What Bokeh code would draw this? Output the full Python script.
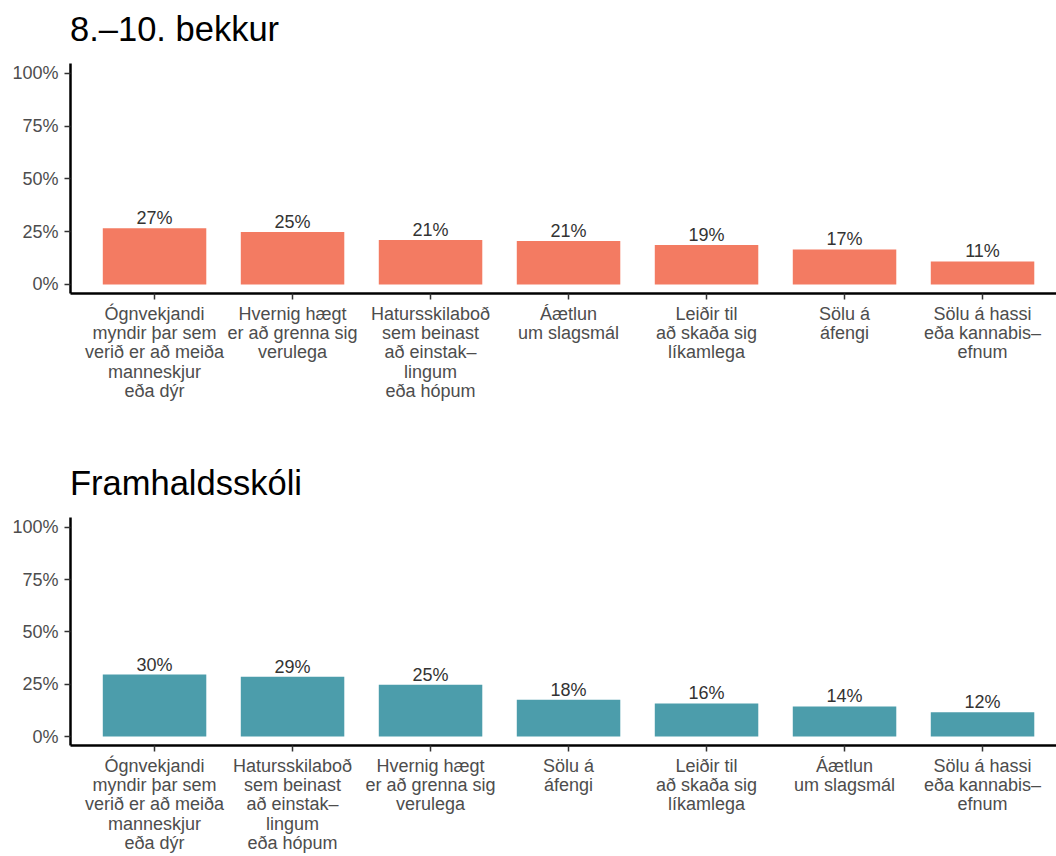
from bokeh.plotting import figure
from bokeh.models import FixedTicker, Range1d, Div
from bokeh.layouts import column
from bokeh.embed import file_html
from bokeh.resources import INLINE
from bokeh.core.properties import value

FONT = "Liberation Sans"

# ---- data ----
title_top = "8.–10. bekkur"
cats_top = [
    "Ógnvekjandi\nmyndir þar sem\nverið er að meiða\nmanneskjur\neða dýr",
    "Hvernig hægt\ner að grenna sig\nverulega",
    "Hatursskilaboð\nsem beinast\nað einstak–\nlingum\neða hópum",
    "Áætlun\num slagsmál",
    "Leiðir til\nað skaða sig\nlíkamlega",
    "Sölu á\náfengi",
    "Sölu á hassi\neða kannabis–\nefnum",
]
values_top = [26.6, 24.8, 21.0, 20.6, 18.7, 16.6, 10.9]

title_bottom = "Framhaldsskóli"
cats_bottom = [
    "Ógnvekjandi\nmyndir þar sem\nverið er að meiða\nmanneskjur\neða dýr",
    "Hatursskilaboð\nsem beinast\nað einstak–\nlingum\neða hópum",
    "Hvernig hægt\ner að grenna sig\nverulega",
    "Sölu á\náfengi",
    "Leiðir til\nað skaða sig\nlíkamlega",
    "Áætlun\num slagsmál",
    "Sölu á hassi\neða kannabis–\nefnum",
]
values_bottom = [29.6, 28.6, 24.8, 17.6, 15.8, 14.4, 11.6]

y_ticks = [0, 25, 50, 75, 100]
y_tick_labels = ["0%", "25%", "50%", "75%", "100%"]

color_top = "#F37B62"
color_bottom = "#4C9DAB"

X_MIN, X_MAX = -0.609, 6.536
Y_MIN, Y_MAX = -4.3, 104.7


def make_title(text):
    html = ('<div style="font-family: \'Liberation Sans\', Arial, sans-serif; '
            'font-size: 34.5px; line-height: 34px; padding-top: 12px; '
            'padding-left: 70px; color: #000000; white-space: nowrap;">'
            + text + '</div>')
    return Div(text=html, width=1056, height=48, margin=(0, 0, 0, 0))


def make_panel(cats, vals, color, height, border_bottom):
    p = figure(
        width=1056, height=height,
        x_range=Range1d(X_MIN, X_MAX), y_range=Range1d(Y_MIN, Y_MAX),
        output_backend="svg", toolbar_location=None,
        min_border_left=70, min_border_right=0,
        min_border_top=15, min_border_bottom=border_bottom,
    )
    xs = list(range(len(cats)))
    p.vbar(x=xs, top=vals, bottom=0, width=0.75, fill_color=color, line_color=None)
    labels = [f"{round(v)}%" for v in vals]
    p.text(x=xs, y=vals, text=labels, text_align="center", text_baseline="alphabetic",
           y_offset=-10, text_font=value(FONT), text_font_size="18px", text_color="#333333")

    p.xgrid.visible = False
    p.ygrid.visible = False
    p.outline_line_color = None
    p.background_fill_color = "white"
    p.border_fill_color = "white"

    xa = p.xaxis[0]
    xa.ticker = FixedTicker(ticks=xs)
    xa.major_label_overrides = {i: c for i, c in enumerate(cats)}
    xa.minor_tick_line_color = None
    xa.major_tick_in = 0
    xa.major_tick_out = 6
    xa.major_tick_line_color = "#333333"
    xa.major_tick_line_width = 1.5
    xa.axis_line_color = "black"
    xa.axis_line_width = 2.5
    xa.major_label_text_font = FONT
    xa.major_label_text_font_size = "18px"
    xa.major_label_text_color = "#4D4D4D"
    xa.major_label_text_line_height = 0.97
    xa.major_label_standoff = 4

    ya = p.yaxis[0]
    ya.ticker = FixedTicker(ticks=y_ticks)
    ya.major_label_overrides = {t: l for t, l in zip(y_ticks, y_tick_labels)}
    ya.minor_tick_line_color = None
    ya.major_tick_in = 0
    ya.major_tick_out = 6
    ya.major_tick_line_color = "#333333"
    ya.major_tick_line_width = 1.5
    ya.axis_line_color = "black"
    ya.axis_line_width = 2.5
    ya.major_label_text_font = FONT
    ya.major_label_text_font_size = "18px"
    ya.major_label_text_color = "#4D4D4D"
    ya.major_label_standoff = 6
    return p


t1 = make_title(title_top)
p1 = make_panel(cats_top, values_top, color_top, 406, 161)
t2 = make_title(title_bottom)
p2 = make_panel(cats_bottom, values_bottom, color_bottom, 354, 109)

layout = column(t1, p1, t2, p2, spacing=0)
open("out.html", "w").write(file_html(layout, INLINE))
